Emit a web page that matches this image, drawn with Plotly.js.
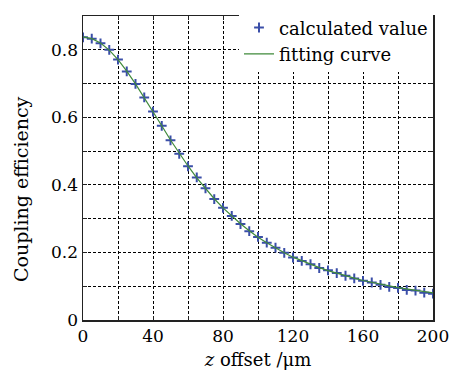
<!DOCTYPE html>
<html>
<head>
<meta charset="utf-8">
<script src="https://cdn.plot.ly/plotly-3.0.1.min.js"></script>
<style>html,body{margin:0;padding:0;background:#fff;}#chart{width:463px;height:370px;}</style>
</head>
<body>
<div id="chart"></div>
<script>
const zOffset = [0,5,10,15,20,25,30,35,40,45,50,55,60,65,70,75,80,85,90,95,100,105,110,115,120,125,130,135,140,145,150,155,160,165,170,175,180,185,190,195,200];
const calculated = [0.837,0.833,0.819,0.800,0.771,0.736,0.699,0.659,0.617,0.575,0.532,0.492,0.455,0.422,0.390,0.358,0.332,0.308,0.284,0.263,0.246,0.229,0.214,0.199,0.185,0.175,0.165,0.154,0.147,0.139,0.131,0.123,0.116,0.111,0.104,0.098,0.095,0.089,0.087,0.081,0.078];
const fitted = [0.838,0.833,0.820,0.799,0.771,0.737,0.699,0.659,0.617,0.575,0.533,0.493,0.456,0.421,0.389,0.359,0.332,0.307,0.285,0.264,0.245,0.229,0.213,0.199,0.186,0.175,0.164,0.155,0.146,0.138,0.131,0.124,0.117,0.111,0.106,0.101,0.096,0.092,0.088,0.084,0.080];
const xTicks = [0,40,80,120,160,200];
const yTicks = [0,0.2,0.4,0.6,0.8];
const seriesNames = ['calculated value','fitting curve'];
const xTitle = '<i>z</i> offset /μm';
const yTitle = 'Coupling efficiency';

const F = 'DejaVu Serif';

const traces = [
  {x: zOffset, y: calculated, mode: 'markers', name: seriesNames[0], type: 'scatter',
   marker: {symbol: 'cross-thin-open', size: 7, color: '#3a4ea8', line: {width: 2, color: '#3a4ea8'}}},
  {x: zOffset, y: fitted, mode: 'lines', name: seriesNames[1], type: 'scatter',
   line: {color: '#3f8a3a', width: 1.2}}
];

const axisCommon = {
  showline: true, linecolor: '#222', linewidth: 1.5, mirror: 'ticks',
  ticks: 'inside', ticklen: 4, tickcolor: '#222', tickwidth: 1,
  showgrid: true, gridcolor: '#000', gridwidth: 1, griddash: '3px,2px',
  zeroline: false, tickfont: {family: F, size: 17, color: '#000'}
};

const layout = {
  width: 463, height: 370,
  margin: {l: 82.5, r: 29.5, t: 9.3, b: 50},
  paper_bgcolor: '#fff', plot_bgcolor: '#fff',
  font: {family: F, color: '#000'},
  showlegend: true,
  legend: {x: 1, xanchor: 'right', y: 1.022, yanchor: 'top', bgcolor: '#fff', borderwidth: 0,
           font: {family: F, size: 18, color: '#000'}, tracegroupgap: 0, itemwidth: 30},
  xaxis: Object.assign({}, axisCommon, {
    range: [0, 200], tickvals: xTicks, ticktext: xTicks.map(String),
    title: {text: xTitle, font: {family: F, size: 18, color: '#000'}, standoff: 8}
  }),
  yaxis: Object.assign({}, axisCommon, {
    range: [0, 0.9], tickvals: yTicks, ticktext: yTicks.map(v => v === 0 ? '0' : v.toFixed(1)),
    title: {text: ''}
  }),
  annotations: [{
    text: yTitle, textangle: -90, xref: 'paper', yref: 'paper', x: -0.175, y: 0.43,
    xanchor: 'center', yanchor: 'middle', showarrow: false,
    font: {family: F, size: 19, color: '#000'}
  }]
};

layout.xaxis.minor = {tickvals: [20,60,100,140,180], showgrid: true, gridcolor: '#000', gridwidth: 1, griddash: '3px,2px', ticks: 'inside', ticklen: 4, tickcolor: '#222'};
layout.yaxis.minor = {tickvals: [0.1,0.3,0.5,0.7], showgrid: true, gridcolor: '#000', gridwidth: 1, griddash: '3px,2px', ticks: 'inside', ticklen: 4, tickcolor: '#222'};

Plotly.newPlot('chart', traces, layout, {displayModeBar: false, staticPlot: true});
</script>
</body>
</html>
